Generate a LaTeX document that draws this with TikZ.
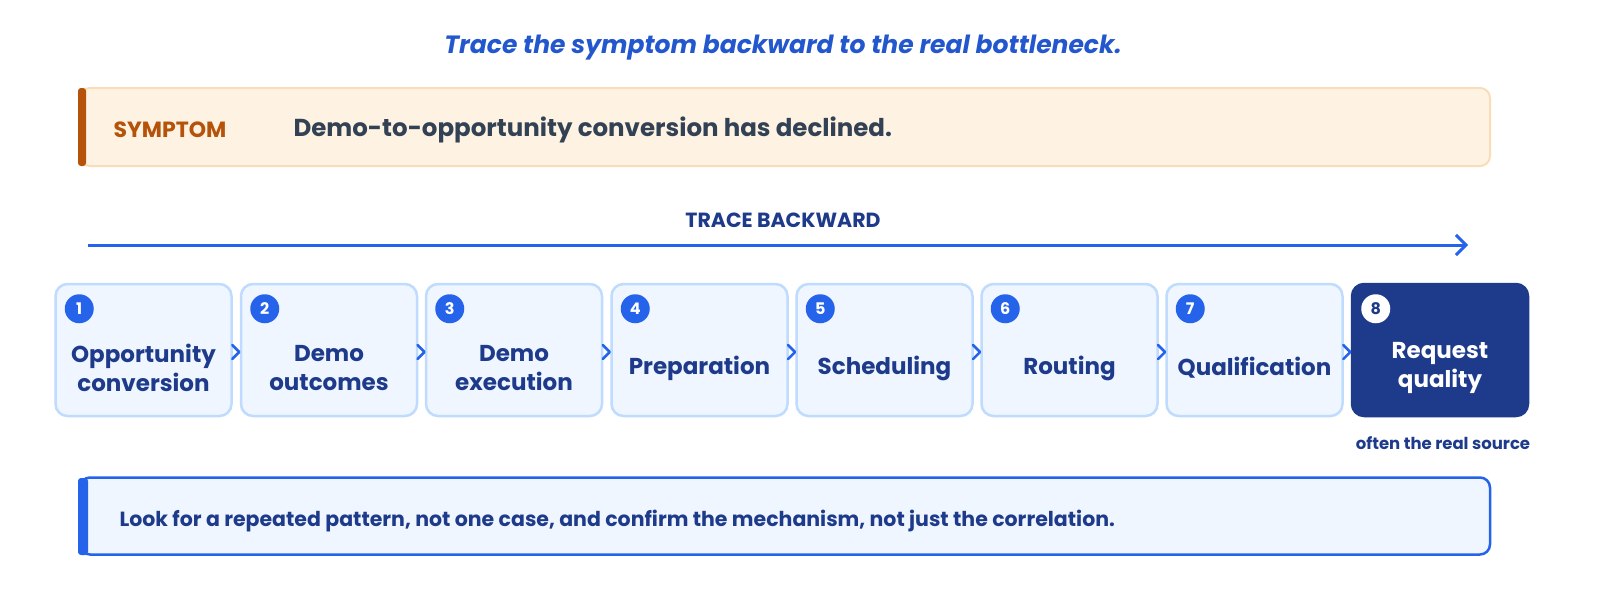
\documentclass[tikz,border=0pt]{standalone}
\usepackage{fontspec}
\setmainfont{Poppins}
\usetikzlibrary{calc,arrows.meta}
\definecolor{navy}{HTML}{1E3A8A}
\definecolor{blu}{HTML}{2563EB}
\definecolor{lbl}{HTML}{EFF6FF}
\definecolor{lbd}{HTML}{BFDBFE}
\definecolor{org}{HTML}{B45309}
\definecolor{obg}{HTML}{FEF3E2}
\definecolor{obd}{HTML}{F8DDB8}
\definecolor{slate}{HTML}{334155}
\begin{document}
\begin{tikzpicture}[x=1pt,y=-1pt,
  stepbox/.style={draw=lbd,fill=lbl,line width=2.5pt,rounded corners=12pt,minimum width=176pt,minimum height=132pt,inner sep=0pt},
  lab/.style={font=\fontsize{23}{29}\selectfont\bfseries,text=navy,align=center},
  num/.style={circle,fill=blu,text=white,minimum size=29pt,inner sep=0pt,font=\fontsize{16}{16}\selectfont\bfseries},
  chev/.style={blu,line width=2.5pt,line cap=round,line join=round}]
\useasboundingbox (0,0) rectangle (1600,600);
\fill[white] (0,0) rectangle (1600,600);
\node[font=\fontsize{25}{25}\selectfont\bfseries\itshape,text=blu!70!navy] (title) at (783,48) {Trace the symptom backward to the real bottleneck.};
% symptom
\node[draw=obd,fill=obg,line width=2pt,rounded corners=10pt,minimum width=1410pt,minimum height=78pt] (sym) at (785,127) {};
\fill[org,rounded corners=3pt] (78,88) rectangle (86,166);
\node[anchor=west,font=\fontsize{22}{22}\selectfont\bfseries,text=org] (symt) at (110,130) {SYMPTOM};
\node[anchor=west,font=\fontsize{24.5}{24}\selectfont\bfseries,text=slate] (symd) at (290,130) {Demo-to-opportunity conversion has declined.};
% trace arrow
\node[font=\fontsize{20.5}{20}\selectfont\bfseries,text=navy] (tb) at (783,220) {TRACE BACKWARD};
\coordinate (as) at (88,245); \coordinate (ae) at (1468,245);
\draw[blu,line width=3pt,-{Straight Barb[length=10pt,width=20pt,line width=3pt]}] (as) -- (ae);
% steps
\foreach \i/\x/\t in {1/143.5/{Opportunity\\conversion},2/329/{Demo\\outcomes},3/514/{Demo\\execution},4/699.5/{Preparation},5/884.5/{Scheduling},6/1069.5/{Routing},7/1254.5/{Qualification}}{
  \node[stepbox] (s\i) at (\x,350) {};
  \node[lab] (l\i) at (\x,368) {\t};
  \node[num] (n\i) at ($(s\i.north west)+(25,26)$) {\i};
}
\node[stepbox,draw=navy,fill=navy] (s8) at (1440,350) {};
\node[lab,text=white] (l8) at (1440,368) {Request\\quality};
\node[num,fill=white,text=navy] (n8) at ($(s8.north west)+(25,26)$) {8};
\node[font=\fontsize{16.5}{16}\selectfont\bfseries,text=navy] (src) at (1443,443) {often the real source};
\foreach \a/\b in {1/2,2/3,3/4,4/5,5/6,6/7,7/8}{
  \coordinate (c\a) at ($(s\a.east)!0.5!(s\b.west)+(0,2)$);
  \draw[chev] ($(c\a)+(-4,-7)$) -- ($(c\a)+(3,0)$) -- ($(c\a)+(-4,7)$);
}
% bottom
\node[draw=blu,fill=lbl,line width=2.5pt,rounded corners=10pt,minimum width=1410pt,minimum height=77pt] (tip) at (785,516) {};
\fill[blu,rounded corners=3pt] (78,478) rectangle (88,555);
\node[anchor=west,font=\fontsize{20.5}{20}\selectfont\bfseries,text=navy] (tipt) at (116,521) {Look for a repeated pattern, not one case, and confirm the mechanism, not just the correlation.};
\end{tikzpicture}
\end{document}
